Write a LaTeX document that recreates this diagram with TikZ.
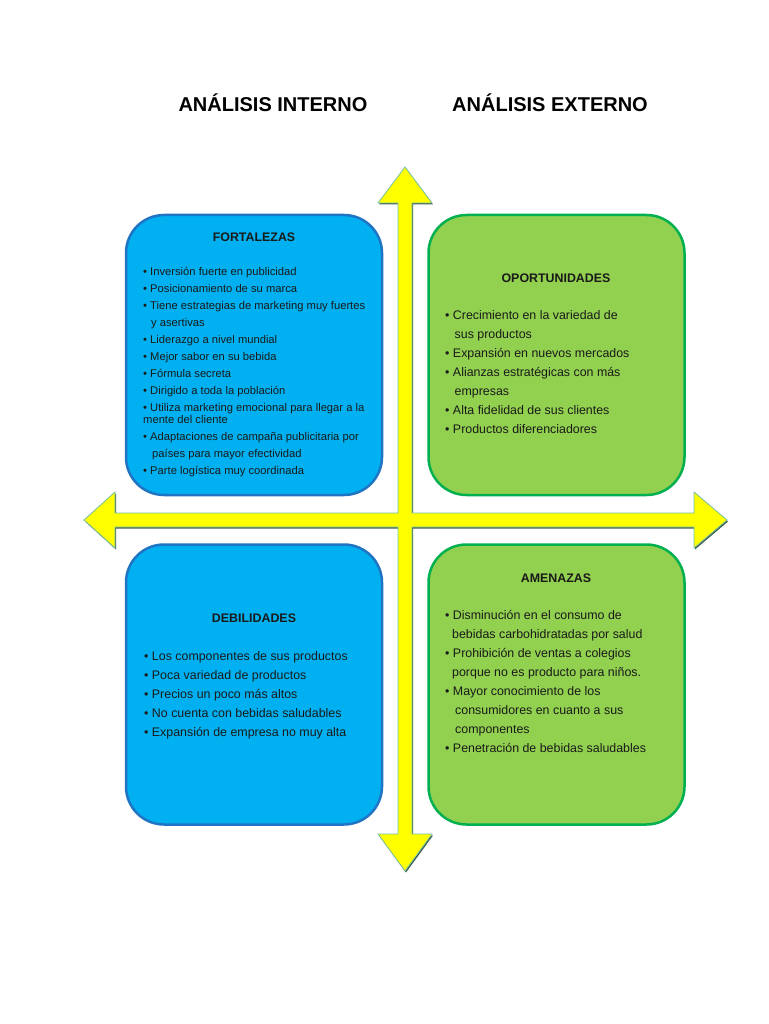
\documentclass[tikz,border=0pt]{standalone}
\usepackage{fontspec}
\setmainfont{Liberation Sans}
\usepackage{xcolor}

\definecolor{azulfondo}{HTML}{00B0F0}
\definecolor{azulborde}{HTML}{1F74C4}
\definecolor{verdefondo}{HTML}{92D050}
\definecolor{verdeborde}{HTML}{00B050}
\definecolor{amarillo}{HTML}{FFFF00}
\definecolor{bordeflecha}{HTML}{74BFA0}
\definecolor{sombraflecha}{HTML}{3E5F4F}
\definecolor{texto}{HTML}{1A1A1A}

% contorno de las dos flechas dobles (una sola figura en cruz)
\newcommand{\cruzflechas}{(405,-167) -- (432,-203) -- (412,-203) -- (412,-513)
    -- (694,-513) -- (694,-492) -- (727,-520) -- (694,-548) -- (694,-527)
    -- (412,-527) -- (412,-834) -- (432,-834) -- (405,-871) -- (378,-834)
    -- (398,-834) -- (398,-527) -- (115,-527) -- (115,-548) -- (84,-520)
    -- (115,-492) -- (115,-513) -- (398,-513) -- (398,-203) -- (378,-203) -- cycle}

\begin{document}
\begin{tikzpicture}[x=1pt, y=1pt,
    caja/.style={rounded corners=38pt, line width=2.5pt, minimum width=256pt, minimum height=280pt, inner sep=0pt},
    cajaazul/.style={caja, draw=azulborde, fill=azulfondo},
    cajaverde/.style={caja, draw=verdeborde, fill=verdefondo},
    titulo/.style={font=\bfseries\fontsize{20}{24}\selectfont, anchor=base},
    encabezado/.style={font=\bfseries\fontsize{12.4}{15}\selectfont, text=texto},
    lista/.style={align=left, anchor=north west, inner sep=0pt, text=texto},
    flecha/.style={fill=amarillo, draw=bordeflecha, line width=0.8pt, line join=miter},
    sombra/.style={fill=sombraflecha}]

    \useasboundingbox (0,0) rectangle (768,-1024);
    \fill[white] (0,0) rectangle (768,-1024);

    % Titulos
    \node[titulo] (interno) at (273,-112) {ANÁLISIS INTERNO};
    \node[titulo] (externo) at (550,-112) {ANÁLISIS EXTERNO};

    % Cajas
    \node[cajaazul] (fortalezas) at (254,-355) {};
    \node[cajaverde] (oportunidades) at (556.5,-355) {};
    \node[cajaazul] (debilidades) at (254,-684.5) {};
    \node[cajaverde] (amenazas) at (556.5,-684.5) {};

    % Flechas
    \fill[sombra, shift={(1,-1.5)}] \cruzflechas;
    \draw[flecha] \cruzflechas;

    % Fortalezas
    \node[encabezado] (tFortalezas) at (254,-237) {FORTALEZAS};
    \node[lista, font=\fontsize{11.2}{17}\selectfont] (lFortalezas) at (143,-267) {%
        • Inversión fuerte en publicidad\\
        • Posicionamiento de su marca\\
        • Tiene estrategias de marketing muy fuertes\\
        \hspace*{8pt}y asertivas\\
        • Liderazgo a nivel mundial\\
        • Mejor sabor en su bebida\\
        • Fórmula secreta\\
        • Dirigido a toda la población\\
        • Utiliza marketing emocional para llegar a la\\[-4.6pt]
        mente del cliente\\
        • Adaptaciones de campaña publicitaria por\\
        \hspace*{9pt}países para mayor efectividad\\
        • Parte logística muy coordinada};

    % Oportunidades
    \node[encabezado] (tOportunidades) at (556,-278) {OPORTUNIDADES};
    \node[lista, font=\fontsize{12.4}{19}\selectfont] (lOportunidades) at (445,-310.5) {%
        • Crecimiento en la variedad de\\
        \hspace*{9.5pt}sus productos\\
        • Expansión en nuevos mercados\\
        • Alianzas estratégicas con más\\
        \hspace*{9.5pt}empresas\\
        • Alta fidelidad de sus clientes\\
        • Productos diferenciadores};

    % Debilidades
    \node[encabezado] (tDebilidades) at (254,-618) {DEBILIDADES};
    \node[lista, font=\fontsize{12.4}{19}\selectfont] (lDebilidades) at (144,-651) {%
        • Los componentes de sus productos\\
        • Poca variedad de productos\\
        • Precios un poco más altos\\
        • No cuenta con bebidas saludables\\
        • Expansión de empresa no muy alta};

    % Amenazas
    \node[encabezado] (tAmenazas) at (556,-578) {AMENAZAS};
    \node[lista, font=\fontsize{12.4}{19}\selectfont] (lAmenazas) at (445,-610.5) {%
        • Disminución en el consumo de\\
        \hspace*{7pt}bebidas carbohidratadas por salud\\
        • Prohibición de ventas a colegios\\
        \hspace*{7pt}porque no es producto para niños.\\
        • Mayor conocimiento de los\\
        \hspace*{10pt}consumidores en cuanto a sus\\
        \hspace*{10pt}componentes\\
        • Penetración de bebidas saludables};

\end{tikzpicture}
\end{document}
